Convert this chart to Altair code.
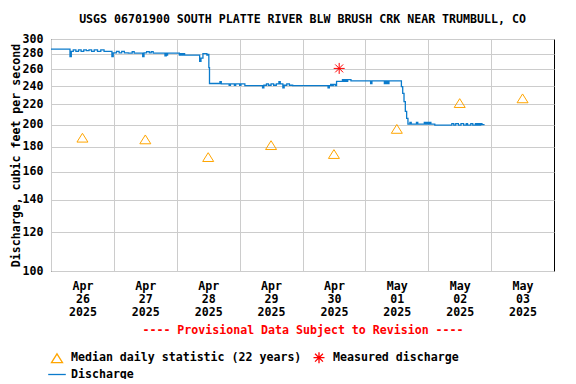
import altair as alt
import pandas as pd

FONT = "DejaVu Sans Mono"
FS = 11.6

# ---- Discharge (15-min record), UTC ----
discharge_time = [
    "04-26 00:00", "04-26 07:15", "04-26 07:45", "04-26 08:30", "04-26 09:30", "04-26 10:30",
    "04-26 11:30", "04-26 12:30", "04-26 13:30", "04-26 14:30", "04-26 15:30", "04-26 16:30",
    "04-26 17:45", "04-26 19:00", "04-26 20:15", "04-26 23:15", "04-26 23:45", "04-27 01:00",
    "04-27 02:00", "04-27 03:00", "04-27 04:00", "04-27 05:30", "04-27 07:00", "04-27 07:45",
    "04-27 11:00", "04-27 11:30", "04-27 12:30", "04-27 13:30", "04-27 14:15", "04-27 15:00",
    "04-27 19:30", "04-27 20:00", "04-27 20:15", "04-27 20:30", "04-28 01:00", "04-28 01:30",
    "04-28 02:00", "04-28 02:30", "04-28 03:00", "04-28 08:45", "04-28 09:15", "04-28 10:00",
    "04-28 11:30", "04-28 12:00", "04-28 12:15", "04-28 12:30", "04-28 16:30", "04-28 17:00",
    "04-28 20:00", "04-28 20:30", "04-28 22:00", "04-28 22:30", "04-29 00:00", "04-29 00:30",
    "04-29 02:00", "04-29 08:45", "04-29 09:15", "04-29 10:15", "04-29 11:00", "04-29 12:00",
    "04-29 13:00", "04-29 14:00", "04-29 15:00", "04-29 15:30", "04-29 16:30", "04-29 17:00",
    "04-29 18:00", "04-29 19:00", "04-29 20:15", "04-30 09:45", "04-30 10:15", "04-30 10:45",
    "04-30 11:15", "04-30 11:45", "04-30 12:30", "04-30 13:00", "04-30 15:15", "04-30 15:45",
    "04-30 16:15", "04-30 16:45", "04-30 17:15", "04-30 18:30", "05-01 02:00", "05-01 02:30",
    "05-01 07:15", "05-01 07:30", "05-01 08:00", "05-01 08:15", "05-01 08:45", "05-01 09:00",
    "05-01 13:45", "05-01 14:15", "05-01 14:45", "05-01 15:15", "05-01 15:45", "05-01 16:15",
    "05-01 17:00", "05-01 17:30", "05-01 19:30", "05-01 20:00", "05-01 22:30", "05-01 23:00",
    "05-01 23:30", "05-02 00:00", "05-02 00:30", "05-02 01:00", "05-02 02:30", "05-02 09:00",
    "05-02 09:45", "05-02 10:30", "05-02 11:30", "05-02 12:30", "05-02 13:30", "05-02 14:30",
    "05-02 15:00", "05-02 16:15", "05-02 17:00", "05-02 18:00", "05-02 18:30", "05-02 19:00",
    "05-02 19:30", "05-02 20:00", "05-02 20:30", "05-02 21:30",
]
discharge_cfs = [
    286, 276, 283, 285, 283, 285,
    283, 285, 284, 285, 283, 285,
    283, 285, 283, 276, 281, 283,
    281, 283, 281, 280.5, 282.5, 280.5,
    276, 281, 282.5, 281, 282.5, 280.5,
    277, 280.5, 278, 280.5, 278, 280,
    278, 280, 278, 270, 274, 280,
    278, 279, 262, 243, 245, 242.5,
    241, 242.5, 241, 242.5, 241, 242.5,
    240.5, 238, 241, 242.5, 241, 242.5,
    241, 242.5, 245, 242.5, 238, 241,
    242.5, 241, 240.5, 238, 240.5, 242,
    240.5, 242, 240.5, 245.5, 247.5, 245.5,
    247.5, 245.5, 247.5, 246, 243, 246,
    243, 246, 243, 246, 243, 246,
    239.5, 232, 223, 213, 206, 200.5,
    202, 200.5, 202, 200.5, 202, 200.5,
    202, 200.5, 202, 200.5, 199.5, 201,
    199.5, 201, 199.5, 201, 199.5, 201,
    199.5, 201, 199.5, 201, 199.5, 201,
    199.5, 201, 200, 200,
]

# ---- Median daily statistic (22 years), plotted at noon ----
median_time = ["04-26 12:00", "04-27 12:00", "04-28 12:00", "04-29 12:00",
               "04-30 12:00", "05-01 12:00", "05-02 12:00", "05-03 12:00"]
median_cfs = [188, 186.5, 171.5, 181.5, 174, 196, 221.5, 226.5]

# ---- Measured discharge ----
measured_time = ["04-30 14:00"]
measured_cfs = [261]

y_ticks = [100, 120, 140, 160, 180, 200, 220, 240, 260, 280, 300]
x_tick_days = ["04-26", "04-27", "04-28", "04-29", "04-30", "05-01", "05-02", "05-03"]
x_domain_days = ["04-26", "05-04"]

series_names = ["Median daily statistic (22 years)", "Measured discharge", "Discharge"]
series_colors = ["#FFA500", "#FF0000", "#0B7BCC"]
series_shapes = [
    "M0,-0.8L1,0.8L-1,0.8Z",
    "M-1,0L1,0M0,-1L0,1M-0.72,-0.72L0.72,0.72M-0.72,0.72L0.72,-0.72",
    "M-1.6,0L1.6,0",
]


def iso(s):
    return "2025-" + s.replace(" ", "T") + ":00Z"


def ms(day):
    return int(pd.Timestamp("2025-" + day, tz="UTC").value // 10**6)


q_df = pd.DataFrame({"t": [iso(s) for s in discharge_time], "v": discharge_cfs,
                     "series": series_names[2]})
m_df = pd.DataFrame({"t": [iso(s) for s in median_time], "v": median_cfs,
                     "series": series_names[0]})
s_df = pd.DataFrame({"t": [iso(s) for s in measured_time], "v": measured_cfs,
                     "series": series_names[1]})

x_enc = alt.X(
    "t:T",
    scale=alt.Scale(type="utc", domain=[ms(d) for d in x_domain_days], nice=False),
    axis=alt.Axis(
        values=[ms(d) for d in x_tick_days],
        grid=True, ticks=False, domain=False,
        labelExpr="[utcFormat(datum.value,'%b'), utcFormat(datum.value,'%d'), utcFormat(datum.value,'%Y')]",
        labelOffset=31.45, labelAlign="center", labelBaseline="top", labelLineHeight=13,
        labelPadding=9, labelFlush=False, labelOverlap=False,
        title="---- Provisional Data Subject to Revision ----",
        titleColor="#FF0000", titlePadding=7,
    ),
)
y_enc = alt.Y(
    "v:Q",
    scale=alt.Scale(type="log", domain=[100, 300], nice=False),
    axis=alt.Axis(values=y_ticks, grid=True, ticks=False, domain=False, labelPadding=8,
                  title="Discharge, cubic feet per second", titlePadding=1),
)

legend = alt.Legend(
    title=None, orient="none", legendX=-0.5, legendY=312, columns=2, direction="horizontal",
    columnPadding=9, rowPadding=2, symbolSize=121, symbolStrokeWidth=1.3,
    labelOffset=7.5, labelFont=FONT, labelFontSize=FS, labelFontWeight="bold",
    labelColor="black", labelLimit=400, padding=0,
)
color_enc = alt.Color("series:N", scale=alt.Scale(domain=series_names, range=series_colors),
                      legend=legend)
shape_enc = alt.Shape("series:N", scale=alt.Scale(domain=series_names, range=series_shapes),
                      legend=legend)

line = alt.Chart(q_df).mark_line(interpolate="step-after", strokeWidth=1.3).encode(
    x=x_enc, y=y_enc, color=color_enc)
med = alt.Chart(m_df).mark_point(filled=False, size=121, strokeWidth=1, opacity=1).encode(
    x=x_enc, y=y_enc, color=color_enc, shape=shape_enc)
meas = alt.Chart(s_df).mark_point(filled=False, size=121, strokeWidth=1, opacity=1).encode(
    x=x_enc, y=y_enc, color=color_enc, shape=shape_enc)

chart = (
    alt.layer(line, med, meas)
    .properties(
        width=503, height=232,
        title=alt.TitleParams(
            text="USGS 06701900 SOUTH PLATTE RIVER BLW BRUSH CRK NEAR TRUMBULL, CO",
            font=FONT, fontSize=FS, fontWeight="bold", color="black",
            anchor="middle", frame="group", offset=7,
        ),
        autosize=alt.AutoSizeParams(type="none"),
        padding={"left": 43, "top": 31, "right": 14, "bottom": 108},
        background="white",
    )
    .configure_view(stroke="black", strokeWidth=1)
    .configure_axis(
        gridColor="#cccccc", gridWidth=1, gridOpacity=1,
        labelFont=FONT, labelFontSize=FS, labelFontWeight="bold", labelColor="black",
        titleFont=FONT, titleFontSize=FS, titleFontWeight="bold",
    )
    .configure_axisY(titleColor="black")
)

chart.save("out.html", embed_options={"renderer": "svg", "actions": False})
